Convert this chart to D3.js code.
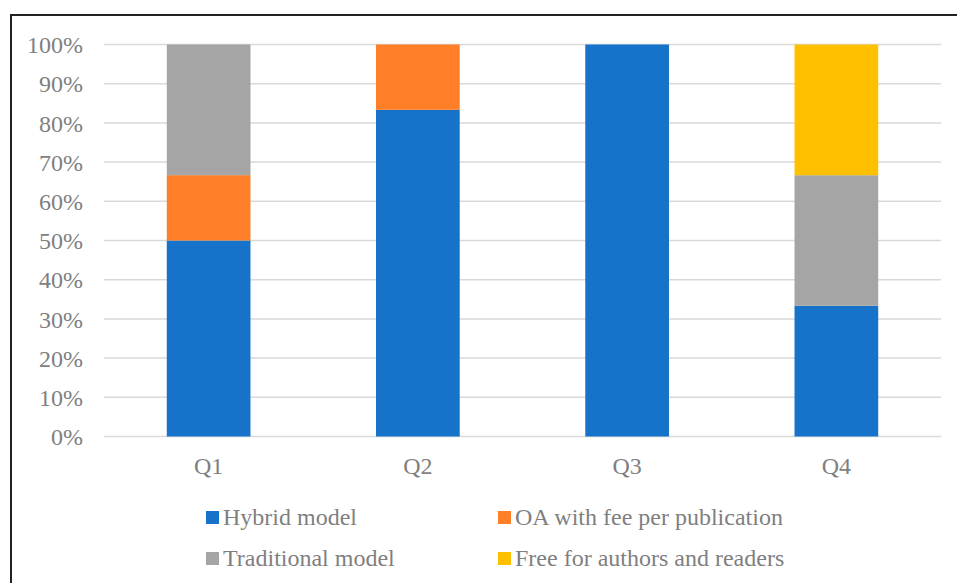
<!DOCTYPE html>
<html><head><meta charset="utf-8">
<script src="https://cdn.jsdelivr.net/npm/d3@7"></script>
<style>body{margin:0;background:#fff}svg{display:block}
svg text{font-family:"Times New Roman","Liberation Serif","DejaVu Serif",serif !important;}</style>
</head><body>
<svg id="c" width="957" height="583"></svg>
<script>
const categories = ["Q1", "Q2", "Q3", "Q4"];
const seriesNames = ["Hybrid model", "OA with fee per publication", "Traditional model", "Free for authors and readers"];
const hybrid = [50, 83.33, 100, 33.33];
const oaFee = [16.67, 16.67, 0, 0];
const traditional = [33.33, 0, 0, 33.33];
const freeAR = [0, 0, 0, 33.34];
const colors = ["#1772C9", "#FE7F27", "#A5A5A5", "#FFC000"];
const yTicks = [0, 10, 20, 30, 40, 50, 60, 70, 80, 90, 100];

const svg = d3.select("#c");
const textColor = "#7F7F7F";
const fs = 24;

// frame
svg.append("line").attr("x1", 11).attr("x2", 957).attr("y1", 15).attr("y2", 15).attr("stroke", "#222").attr("stroke-width", 2);
svg.append("line").attr("x1", 11).attr("x2", 11).attr("y1", 14).attr("y2", 583).attr("stroke", "#222").attr("stroke-width", 2);

const x = d3.scaleBand().domain(categories).range([104, 941]).paddingInner(0.6).paddingOuter(0.3);
const y = d3.scaleLinear().domain([0, 100]).range([436.5, 44.5]);

// gridlines
svg.append("g").selectAll("line").data(yTicks).join("line")
  .attr("x1", 104).attr("x2", 941)
  .attr("y1", d => y(d)).attr("y2", d => y(d))
  .attr("stroke", "#D9D9D9").attr("stroke-width", 1.5);

// y axis labels
const yAxis = d3.axisLeft(y).tickValues(yTicks).tickFormat(d => d + "%").tickSize(0).tickPadding(0);
const ya = svg.append("g").attr("transform", "translate(83,0)").call(yAxis);
ya.select(".domain").remove();
ya.attr("font-family", null);
ya.selectAll("text").attr("font-size", fs).attr("fill", textColor).attr("dy", "0.34em");

// stacked bars
const table = categories.map((c, i) => ({cat: c, s0: hybrid[i], s1: oaFee[i], s2: traditional[i], s3: freeAR[i]}));
const stack = d3.stack().keys(["s0", "s1", "s2", "s3"])(table);
svg.append("g").selectAll("g").data(stack).join("g")
  .attr("fill", (d, i) => colors[i])
  .selectAll("rect").data(d => d).join("rect")
  .attr("x", d => x(d.data.cat))
  .attr("width", x.bandwidth())
  .attr("y", d => y(d[1]))
  .attr("height", d => Math.max(0, y(d[0]) - y(d[1])));

// x axis labels
const xAxis = d3.axisBottom(x).tickSize(0).tickPadding(0);
const xa = svg.append("g").attr("transform", "translate(0,474)").call(xAxis);
xa.select(".domain").remove();
xa.attr("font-family", null);
xa.selectAll("text").attr("font-size", fs).attr("fill", textColor).attr("dy", 0);

// legend
const legPos = [[206, 525], [498, 525], [206, 566], [498, 566]];
const lg = svg.append("g").selectAll("g").data(seriesNames).join("g")
  .attr("transform", (d, i) => `translate(${legPos[i][0]},${legPos[i][1]})`);
lg.append("rect").attr("x", 0).attr("y", -14).attr("width", 13).attr("height", 13).attr("fill", (d, i) => colors[i]);
lg.append("text").attr("x", 17).attr("y", 0).text(d => d)
  .attr("font-size", fs).attr("fill", textColor);
</script>
</body></html>
